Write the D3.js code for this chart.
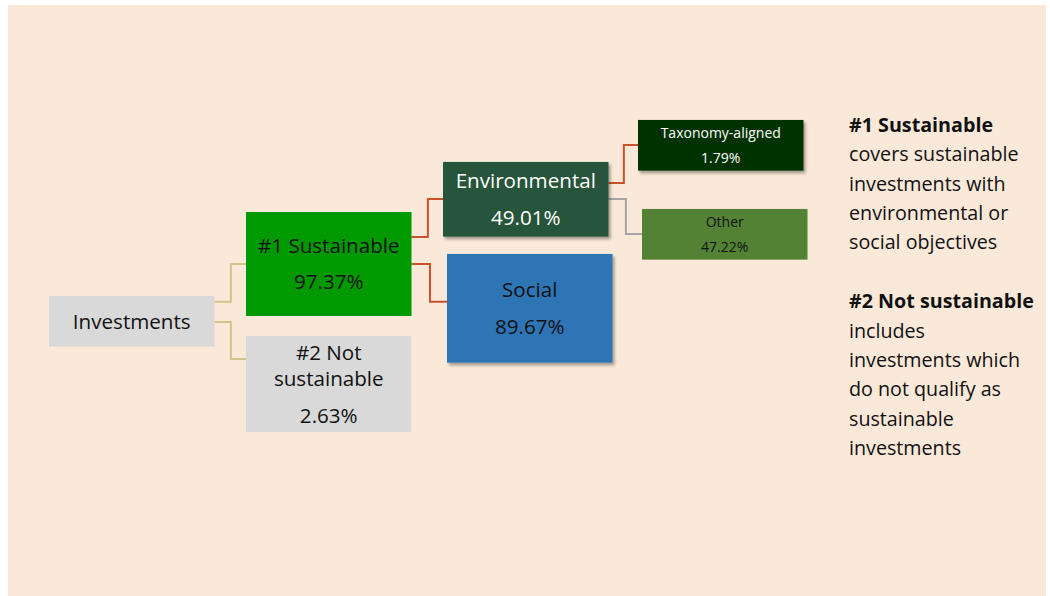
<!DOCTYPE html>
<html>
<head>
<meta charset="utf-8">
<script src="https://cdn.jsdelivr.net/npm/d3@7/dist/d3.min.js"></script>
<style>
  html, body { margin: 0; padding: 0; background: #ffffff; }
  svg { display: block; }
  text { font-family: "Open Sans", "Noto Sans", sans-serif; }
</style>
</head>
<body>
<svg id="chart" width="1050" height="596"></svg>
<script>
// ---------------- DATA ----------------
const nodeIds     = ["inv", "s1", "s2", "env", "soc", "tax", "oth"];
const nodeNames   = ["Investments", "#1 Sustainable", "#2 Not sustainable", "Environmental", "Social", "Taxonomy-aligned", "Other"];
const nodeValues  = [null, 97.37, 2.63, 49.01, 89.67, 1.79, 47.22];
const nodeParents = [null, "inv", "inv", "s1", "s1", "env", "env"];

const legendTitles = ["#1 Sustainable", "#2 Not sustainable"];
const legendBodies = [
  ["covers sustainable", "investments with", "environmental or", "social objectives"],
  ["includes", "investments which", "do not qualify as", "sustainable", "investments"]
];

// ---------------- LAYOUT / STYLE (not data) ----------------
const nodeStyle = {
  inv: { depth: 0, dx: 0, cy: 321.3, h: 50.7, fill: "#d9d9d9", text: "#111", big: true,  shadow: false, lines: ["Investments"] },
  s1:  { depth: 1, dx: 0, cy: 264,   h: 104,  fill: "#009900", text: "#111", big: true,  shadow: false, lines: ["#1 Sustainable"] },
  s2:  { depth: 1, dx: 0, cy: 384,   h: 96,   fill: "#d9d9d9", text: "#111", big: true,  shadow: false, lines: ["#2 Not", "sustainable"] },
  env: { depth: 2, dx: 0, cy: 199.3, h: 74.7, fill: "#26553a", text: "#ffffff", big: true, shadow: true, lines: ["Environmental"] },
  soc: { depth: 2, dx: 4, cy: 308.3, h: 108.7,fill: "#2e75b6", text: "#111", big: true,  shadow: true, lines: ["Social"] },
  tax: { depth: 3, dx: -2, cy: 145.3, h: 50.7, fill: "#003300", text: "#ffffff", big: false, shadow: true, lines: ["Taxonomy-aligned"] },
  oth: { depth: 3, dx: 2, cy: 234.3, h: 50.7, fill: "#548235", text: "#111", big: false, shadow: false, lines: ["Other"] }
};
// connector anchor y's (parent side, child side) and colours
const edgeStyle = {
  s1:  { py: 301.7, cy: 264,   color: "#d2c58c" },
  s2:  { py: 322,   cy: 359,   color: "#d2c58c" },
  env: { py: 237,   cy: 199,   color: "#c9512b" },
  soc: { py: 264,   cy: 301.7, color: "#c9512b" },
  tax: { py: 183,   cy: 145,   color: "#c9512b" },
  oth: { py: 199,   cy: 234,   color: "#a6a6a6" }
};
const boxW = 165.5;

const svg = d3.select("#chart");

// background panel
svg.append("rect").attr("x", 8).attr("y", 5).attr("width", 1038).attr("height", 591).attr("fill", "#fae8d8");

// shadow filter
const defs = svg.append("defs");
const f = defs.append("filter").attr("id", "shadow").attr("x", "-10%").attr("y", "-10%").attr("width", "130%").attr("height", "140%");
f.append("feDropShadow").attr("dx", 2).attr("dy", 2.5).attr("stdDeviation", 1.8).attr("flood-color", "#000").attr("flood-opacity", 0.35);

// scales
const xDepth = d3.scaleLinear().domain([0, 3]).range([49, 640]);

// build hierarchy
const table = nodeIds.map((id, i) => ({ id, name: nodeNames[i], value: nodeValues[i], parent: nodeParents[i] }));
const root = d3.stratify().id(d => d.id).parentId(d => d.parent)(table);

const nodes = root.descendants().map(n => {
  const s = nodeStyle[n.id];
  const x0 = xDepth(n.depth) + s.dx;
  return { n, s, x0, x1: x0 + boxW, y0: s.cy - s.h / 2, y1: s.cy + s.h / 2 };
});
const byId = Object.fromEntries(nodes.map(d => [d.n.id, d]));

// connectors
const links = root.links();
svg.append("g").selectAll("path").data(links).join("path")
  .attr("fill", "none")
  .attr("stroke-width", 2)
  .attr("stroke", d => edgeStyle[d.target.id].color)
  .attr("d", d => {
    const p = byId[d.source.id], c = byId[d.target.id], e = edgeStyle[d.target.id];
    const mx = p.x1 + (c.x0 - p.x1) * 0.52;
    return d3.line()([[p.x1, e.py], [mx, e.py], [mx, e.cy], [c.x0, e.cy]]);
  });

// boxes
const g = svg.append("g").selectAll("g").data(nodes).join("g");
g.append("rect")
  .attr("x", d => d.x0).attr("y", d => d.y0)
  .attr("width", d => d.x1 - d.x0).attr("height", d => d.y1 - d.y0)
  .attr("fill", d => d.s.fill)
  .attr("filter", d => d.s.shadow ? "url(#shadow)" : null);

const fmt = v => v.toFixed(2) + "%";
g.each(function(d) {
  const sel = d3.select(this);
  const lines = d.s.lines.slice();
  const fs = d.s.big ? 20.6 : 14;
  const lh = d.s.big ? 26.7 : 18;
  const gap = d.s.big ? 36.5 : 25;
  const hasVal = d.n.data.value != null;
  const span = (lines.length - 1) * lh + (hasVal ? gap : 0);
  const mid = d.s.cy + fs * 0.35;
  const first = mid - span / 2;
  const cx = (d.x0 + d.x1) / 2;
  lines.forEach((t, i) => {
    sel.append("text").attr("x", cx).attr("y", first + i * lh)
      .attr("text-anchor", "middle").attr("font-size", fs).attr("fill", d.s.text).text(t);
  });
  if (hasVal) {
    sel.append("text").attr("x", cx).attr("y", first + (lines.length - 1) * lh + gap)
      .attr("text-anchor", "middle").attr("font-size", fs).attr("fill", d.s.text).text(fmt(d.n.data.value));
  }
});

// legend / explanation text
const lg = svg.append("g");
const lx = 849, ly = 131.7, llh = 29.4;
let row = 0;
legendTitles.forEach((t, i) => {
  lg.append("text").attr("x", lx).attr("y", ly + row * llh).attr("font-size", 19.7)
    .attr("font-weight", "bold").attr("fill", "#111").text(t);
  row++;
  legendBodies[i].forEach(b => {
    lg.append("text").attr("x", lx).attr("y", ly + row * llh).attr("font-size", 19.7)
      .attr("fill", "#111").text(b);
    row++;
  });
  row++;
});
</script>
</body>
</html>
